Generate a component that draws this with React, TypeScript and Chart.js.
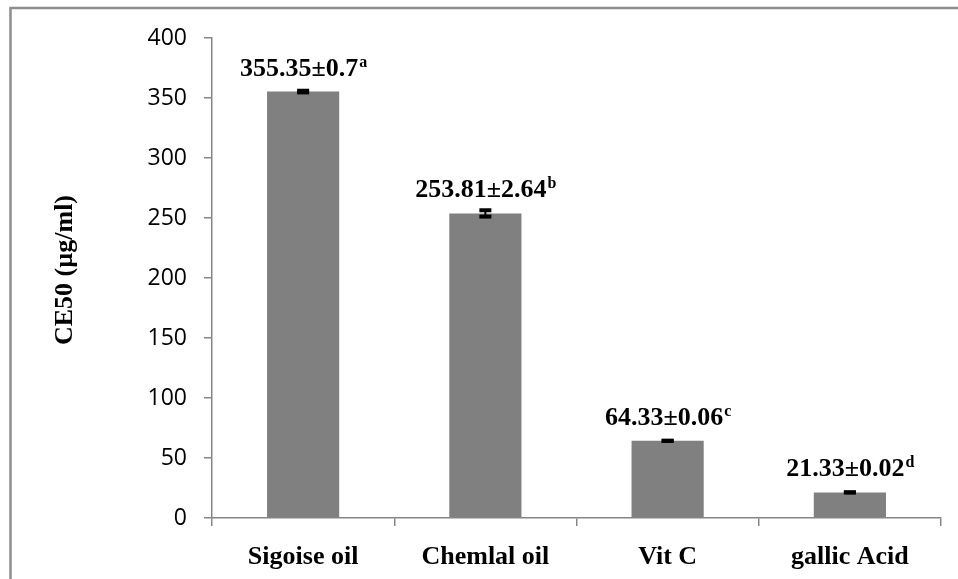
import React, { useEffect, useRef } from "react";
import { Chart, registerables } from "chart.js";

Chart.register(...registerables);

const categories: string[] = ["Sigoise oil", "Chemlal oil", "Vit C", "gallic Acid"];
const values: number[] = [355.35, 253.81, 64.33, 21.33];
const sds: number[] = [0.7, 2.64, 0.06, 0.02];
const letters: string[] = ["a", "b", "c", "d"];
const valueTexts: string[] = ["355.35±0.7", "253.81±2.64", "64.33±0.06", "21.33±0.02"];
const yTicks: number[] = [0, 50, 100, 150, 200, 250, 300, 350, 400];
const yTitle = "CE50 (µg/ml)";

const SERIF = '"Liberation Serif", "DejaVu Serif", serif';
const AXIS_GRAY = "#868686";

const overlayPlugin = {
  id: "overlay",
  afterDraw(chart: any) {
    const ctx = chart.ctx as CanvasRenderingContext2D;
    const yScale = chart.scales.y;
    const meta = chart.getDatasetMeta(0);
    ctx.save();
    // outer frame (left + top)
    ctx.strokeStyle = "#8e8e8e";
    ctx.lineWidth = 2.5;
    ctx.beginPath();
    ctx.moveTo(10.5, chart.height + 5);
    ctx.lineTo(10.5, 8);
    ctx.lineTo(chart.width + 5, 8);
    ctx.stroke();

    // y-axis title
    ctx.save();
    ctx.translate(65, 270);
    ctx.rotate(-Math.PI / 2);
    ctx.fillStyle = "#000";
    ctx.font = `bold 26px ${SERIF}`;
    ctx.textAlign = "center";
    ctx.textBaseline = "middle";
    ctx.fillText(yTitle, 0, 0);
    ctx.restore();

    // error bars + value labels
    meta.data.forEach((bar: any, i: number) => {
      const cx = bar.x;
      const yTop = yScale.getPixelForValue(values[i] + sds[i]);
      const yBot = yScale.getPixelForValue(values[i] - sds[i]);
      const yVal = yScale.getPixelForValue(values[i]);
      ctx.fillStyle = "#000";
      ctx.fillRect(cx - 1, yTop, 2, yBot - yTop);
      ctx.fillRect(cx - 6, yTop - 2, 12, 4);
      ctx.fillRect(cx - 6, yBot - 2, 12, 4);

      const mainFont = `bold 26px ${SERIF}`;
      const supFont = `bold 16px ${SERIF}`;
      ctx.font = mainFont;
      const wMain = ctx.measureText(valueTexts[i]).width;
      ctx.font = supFont;
      const wSup = ctx.measureText(letters[i]).width;
      const x0 = cx - (wMain + wSup) / 2;
      const base = yVal - 16;
      ctx.fillStyle = "#000";
      ctx.textAlign = "left";
      ctx.textBaseline = "alphabetic";
      ctx.font = mainFont;
      ctx.fillText(valueTexts[i], x0, base);
      ctx.font = supFont;
      ctx.fillText(letters[i], x0 + wMain + 1, base - 9);
    });
    ctx.restore();
  },
};

export default function App() {
  const canvasRef = useRef<HTMLCanvasElement | null>(null);

  useEffect(() => {
    if (!canvasRef.current) return;
    const chart = new Chart(canvasRef.current, {
      type: "bar",
      data: {
        labels: categories,
        datasets: [
          {
            data: values,
            backgroundColor: "#808080",
            borderWidth: 0,
            barPercentage: 0.396,
            categoryPercentage: 1,
          },
        ],
      },
      options: {
        animation: false,
        responsive: false,
        devicePixelRatio: 1,
        layout: { padding: { top: 38, right: 17, left: 0, bottom: 0 } },
        plugins: {
          legend: { display: false },
          tooltip: { enabled: false },
          title: { display: false },
        },
        scales: {
          x: {
            grid: {
              offset: true,
              drawOnChartArea: false,
              tickLength: 8,
              color: AXIS_GRAY,
              lineWidth: 1.5,
            },
            border: { color: AXIS_GRAY, width: 1.5 },
            ticks: {
              color: "#000",
              font: { family: SERIF, size: 26, weight: "bold" },
              padding: 16,
              maxRotation: 0,
              autoSkip: false,
            },
            afterFit: (s: any) => {
              s.height = 61;
            },
          },
          y: {
            min: 0,
            max: 400,
            afterBuildTicks: (s: any) => {
              s.ticks = yTicks.map((v) => ({ value: v }));
            },
            grid: {
              drawOnChartArea: false,
              tickLength: 8,
              color: AXIS_GRAY,
              lineWidth: 1.5,
            },
            border: { color: AXIS_GRAY, width: 1.5 },
            ticks: {
              color: "#000",
              font: { family: "'Open Sans', Lato, sans-serif", size: 23 },
              padding: 17,
            },
            afterFit: (s: any) => {
              s.width = 212;
            },
          },
        },
      },
      plugins: [overlayPlugin],
    });
    return () => chart.destroy();
  }, []);

  return (
    <div style={{ position: "fixed", left: 0, top: 0, width: 958, height: 579, background: "#fff" }}>
      <canvas ref={canvasRef} width={958} height={579} style={{ width: 958, height: 579, display: "block" }} />
    </div>
  );
}
